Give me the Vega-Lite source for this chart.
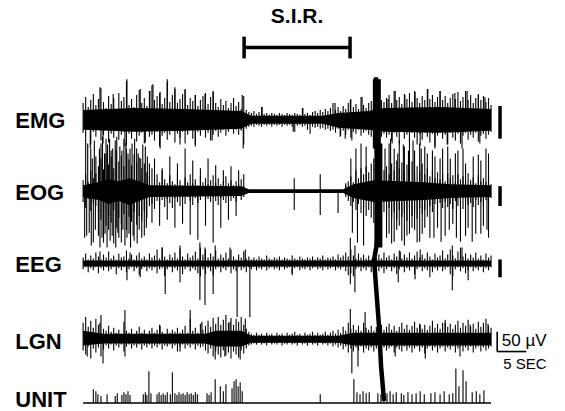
{
"$schema":"https://vega.github.io/schema/vega-lite/v6.json",
"width":565,"height":411,"autosize":{"type":"fit","contains":"padding"},"padding":0,
"background":"white",
"config":{"view":{"stroke":null}},
"datasets":{
"core":[
{"s":"M","t":0,"a":111,"b":131},{"s":"M","t":10,"a":109,"b":133},{"s":"M","t":20,"a":110,"b":132},{"s":"M","t":31,"a":112,"b":130},{"s":"M","t":33,"a":117,"b":125},{"s":"M","t":47,"a":117,"b":125},{"s":"M","t":50,"a":114,"b":129},{"s":"M","t":56,"a":112,"b":131},{"s":"M","t":59,"a":109,"b":133},{"s":"M","t":70,"a":108,"b":134},{"s":"M","t":80,"a":110,"b":132},
{"s":"O","t":0,"a":187,"b":199},{"s":"O","t":3,"a":184,"b":202},{"s":"O","t":5,"a":181,"b":206},{"s":"O","t":7,"a":183,"b":203},{"s":"O","t":9,"a":180,"b":207},{"s":"O","t":11,"a":183,"b":203},{"s":"O","t":13,"a":187,"b":199},{"s":"O","t":31,"a":188,"b":198},{"s":"O","t":32.5,"a":191,"b":195},{"s":"O","t":51,"a":191,"b":195},{"s":"O","t":53,"a":186,"b":200},{"s":"O","t":57,"a":182,"b":204},{"s":"O","t":62,"a":183,"b":203},{"s":"O","t":67,"a":184,"b":202},{"s":"O","t":72,"a":186,"b":200},{"s":"O","t":80,"a":187,"b":199},
{"s":"E","t":0,"a":263,"b":269},{"s":"E","t":40,"a":263,"b":269},{"s":"E","t":80,"a":263,"b":269},
{"s":"L","t":0,"a":334,"b":349},{"s":"L","t":4,"a":337,"b":347},{"s":"L","t":24,"a":337,"b":347},{"s":"L","t":26,"a":334,"b":350},{"s":"L","t":31,"a":334,"b":350},{"s":"L","t":33,"a":339,"b":346},{"s":"L","t":50,"a":339,"b":346},{"s":"L","t":53,"a":336,"b":349},{"s":"L","t":80,"a":336,"b":349}
],
"env":[
{"s":"M","t":0,"a":104,"b":134},{"s":"M","t":0.5,"a":98,"b":140},{"s":"M","t":1,"a":108,"b":131},{"s":"M","t":1.5,"a":101,"b":146},{"s":"M","t":2,"a":95,"b":133},{"s":"M","t":2.5,"a":106,"b":138},{"s":"M","t":3,"a":100,"b":130},{"s":"M","t":3.5,"a":89,"b":142},{"s":"M","t":4,"a":103,"b":136},{"s":"M","t":4.5,"a":109,"b":131},{"s":"M","t":5,"a":97,"b":144},{"s":"M","t":5.5,"a":105,"b":135},{"s":"M","t":6,"a":99,"b":139},{"s":"M","t":6.5,"a":110,"b":132},{"s":"M","t":7,"a":94,"b":141},{"s":"M","t":7.5,"a":102,"b":136},{"s":"M","t":8,"a":98,"b":133},{"s":"M","t":8.5,"a":82,"b":147},{"s":"M","t":9,"a":106,"b":135},{"s":"M","t":9.5,"a":100,"b":140},{"s":"M","t":10,"a":108,"b":132},{"s":"M","t":10.5,"a":96,"b":143},{"s":"M","t":11,"a":91,"b":137},{"s":"M","t":11.5,"a":104,"b":134},{"s":"M","t":12,"a":99,"b":145},{"s":"M","t":12.5,"a":107,"b":131},{"s":"M","t":13,"a":92,"b":138},{"s":"M","t":13.5,"a":86,"b":136},{"s":"M","t":14,"a":101,"b":142},{"s":"M","t":14.5,"a":97,"b":133},{"s":"M","t":15,"a":94,"b":148},{"s":"M","t":15.5,"a":105,"b":137},{"s":"M","t":16,"a":99,"b":134},{"s":"M","t":16.5,"a":83,"b":141},{"s":"M","t":17,"a":103,"b":136},{"s":"M","t":17.5,"a":96,"b":132},{"s":"M","t":18,"a":90,"b":144},{"s":"M","t":18.5,"a":104,"b":135},{"s":"M","t":19,"a":100,"b":139},{"s":"M","t":19.5,"a":95,"b":133},{"s":"M","t":20,"a":91,"b":145},{"s":"M","t":20.5,"a":106,"b":136},{"s":"M","t":21,"a":99,"b":131},{"s":"M","t":21.5,"a":102,"b":140},{"s":"M","t":22,"a":96,"b":146},{"s":"M","t":22.5,"a":107,"b":133},{"s":"M","t":23,"a":101,"b":137},{"s":"M","t":23.5,"a":97,"b":131},{"s":"M","t":24,"a":94,"b":139},{"s":"M","t":24.5,"a":105,"b":134},{"s":"M","t":25,"a":98,"b":142},{"s":"M","t":25.5,"a":93,"b":136},{"s":"M","t":26,"a":104,"b":132},{"s":"M","t":26.5,"a":108,"b":138},{"s":"M","t":27,"a":100,"b":134},{"s":"M","t":27.5,"a":106,"b":131},{"s":"M","t":28,"a":102,"b":137},{"s":"M","t":28.5,"a":109,"b":133},{"s":"M","t":29,"a":104,"b":130},{"s":"M","t":29.5,"a":99,"b":135},{"s":"M","t":30,"a":107,"b":131},{"s":"M","t":30.5,"a":103,"b":136},{"s":"M","t":31,"a":110,"b":132},{"s":"M","t":31.5,"a":97,"b":146},{"s":"M","t":32,"a":111,"b":130},{"s":"M","t":32.5,"a":113,"b":128},{"s":"M","t":33,"a":114,"b":127},{"s":"M","t":33.5,"a":112,"b":128},{"s":"M","t":34,"a":115,"b":126},{"s":"M","t":34.5,"a":113,"b":127},{"s":"M","t":35,"a":108,"b":128},{"s":"M","t":35.5,"a":115,"b":126},{"s":"M","t":36,"a":114,"b":127},{"s":"M","t":36.5,"a":116,"b":126},{"s":"M","t":37,"a":114,"b":128},{"s":"M","t":37.5,"a":115,"b":126},{"s":"M","t":38,"a":116,"b":127},{"s":"M","t":38.5,"a":114,"b":126},{"s":"M","t":39,"a":115,"b":128},{"s":"M","t":39.5,"a":116,"b":126},{"s":"M","t":40,"a":114,"b":127},{"s":"M","t":40.5,"a":115,"b":126},{"s":"M","t":41,"a":116,"b":128},{"s":"M","t":41.5,"a":114,"b":133},{"s":"M","t":42,"a":115,"b":127},{"s":"M","t":42.5,"a":116,"b":126},{"s":"M","t":43,"a":109,"b":128},{"s":"M","t":43.5,"a":115,"b":127},{"s":"M","t":44,"a":114,"b":131},{"s":"M","t":44.5,"a":116,"b":126},{"s":"M","t":45,"a":113,"b":128},{"s":"M","t":45.5,"a":112,"b":129},{"s":"M","t":46,"a":114,"b":128},{"s":"M","t":46.5,"a":111,"b":130},{"s":"M","t":47,"a":113,"b":129},{"s":"M","t":47.5,"a":110,"b":131},{"s":"M","t":48,"a":112,"b":130},{"s":"M","t":48.5,"a":109,"b":132},{"s":"M","t":49,"a":104,"b":131},{"s":"M","t":49.5,"a":111,"b":134},{"s":"M","t":50,"a":108,"b":130},{"s":"M","t":50.5,"a":112,"b":137},{"s":"M","t":51,"a":107,"b":132},{"s":"M","t":51.5,"a":110,"b":136},{"s":"M","t":52,"a":104,"b":131},{"s":"M","t":52.5,"a":100,"b":139},{"s":"M","t":53,"a":108,"b":133},{"s":"M","t":53.5,"a":105,"b":135},{"s":"M","t":54,"a":110,"b":131},{"s":"M","t":54.5,"a":98,"b":137},{"s":"M","t":55,"a":106,"b":134},{"s":"M","t":55.5,"a":109,"b":132},{"s":"M","t":56,"a":104,"b":136},{"s":"M","t":56.5,"a":102,"b":138},{"s":"M","t":57,"a":100,"b":140},{"s":"M","t":57.5,"a":98,"b":142},{"s":"M","t":58,"a":100,"b":140},{"s":"M","t":58.5,"a":101,"b":138},{"s":"M","t":59,"a":103,"b":135},{"s":"M","t":59.5,"a":99,"b":139},{"s":"M","t":60,"a":96,"b":136},{"s":"M","t":60.5,"a":104,"b":142},{"s":"M","t":61,"a":92,"b":134},{"s":"M","t":61.5,"a":101,"b":138},{"s":"M","t":62,"a":98,"b":145},{"s":"M","t":62.5,"a":105,"b":133},{"s":"M","t":63,"a":95,"b":140},{"s":"M","t":63.5,"a":100,"b":136},{"s":"M","t":64,"a":94,"b":143},{"s":"M","t":64.5,"a":103,"b":134},{"s":"M","t":65,"a":92,"b":139},{"s":"M","t":65.5,"a":99,"b":146},{"s":"M","t":66,"a":104,"b":135},{"s":"M","t":66.5,"a":97,"b":141},{"s":"M","t":67,"a":101,"b":134},{"s":"M","t":67.5,"a":90,"b":138},{"s":"M","t":68,"a":100,"b":144},{"s":"M","t":68.5,"a":96,"b":135},{"s":"M","t":69,"a":103,"b":148},{"s":"M","t":69.5,"a":98,"b":137},{"s":"M","t":70,"a":92,"b":133},{"s":"M","t":70.5,"a":101,"b":140},{"s":"M","t":71,"a":97,"b":136},{"s":"M","t":71.5,"a":104,"b":146},{"s":"M","t":72,"a":99,"b":134},{"s":"M","t":72.5,"a":95,"b":139},{"s":"M","t":73,"a":100,"b":142},{"s":"M","t":73.5,"a":93,"b":135},{"s":"M","t":74,"a":102,"b":145},{"s":"M","t":74.5,"a":98,"b":137},{"s":"M","t":75,"a":92,"b":134},{"s":"M","t":75.5,"a":101,"b":141},{"s":"M","t":76,"a":96,"b":136},{"s":"M","t":76.5,"a":104,"b":139},{"s":"M","t":77,"a":99,"b":134},{"s":"M","t":77.5,"a":95,"b":143},{"s":"M","t":78,"a":101,"b":137},{"s":"M","t":78.5,"a":97,"b":135},{"s":"M","t":79,"a":103,"b":140},{"s":"M","t":79.5,"a":99,"b":136},{"s":"M","t":80,"a":106,"b":133},
{"s":"O","t":0,"a":182,"b":204},{"s":"O","t":0.5,"a":176,"b":210},{"s":"O","t":1,"a":184,"b":201},{"s":"O","t":1.5,"a":172,"b":213},{"s":"O","t":2,"a":180,"b":205},{"s":"O","t":2.5,"a":175,"b":208},{"s":"O","t":3,"a":168,"b":214},{"s":"O","t":3.5,"a":160,"b":222},{"s":"O","t":4,"a":171,"b":215},{"s":"O","t":4.5,"a":155,"b":228},{"s":"O","t":5,"a":166,"b":218},{"s":"O","t":5.5,"a":158,"b":225},{"s":"O","t":6,"a":170,"b":212},{"s":"O","t":6.5,"a":152,"b":230},{"s":"O","t":7,"a":163,"b":220},{"s":"O","t":7.5,"a":157,"b":226},{"s":"O","t":8,"a":168,"b":216},{"s":"O","t":8.5,"a":150,"b":232},{"s":"O","t":9,"a":161,"b":219},{"s":"O","t":9.5,"a":167,"b":224},{"s":"O","t":10,"a":156,"b":214},{"s":"O","t":10.5,"a":164,"b":227},{"s":"O","t":11,"a":159,"b":218},{"s":"O","t":11.5,"a":170,"b":223},{"s":"O","t":12,"a":165,"b":213},{"s":"O","t":12.5,"a":174,"b":220},{"s":"O","t":13,"a":178,"b":208},{"s":"O","t":13.5,"a":170,"b":206},{"s":"O","t":14,"a":182,"b":211},{"s":"O","t":14.5,"a":176,"b":203},{"s":"O","t":15,"a":184,"b":207},{"s":"O","t":15.5,"a":172,"b":202},{"s":"O","t":16,"a":181,"b":209},{"s":"O","t":16.5,"a":185,"b":201},{"s":"O","t":17,"a":177,"b":205},{"s":"O","t":17.5,"a":183,"b":210},{"s":"O","t":18,"a":186,"b":200},{"s":"O","t":18.5,"a":175,"b":204},{"s":"O","t":19,"a":182,"b":208},{"s":"O","t":19.5,"a":187,"b":201},{"s":"O","t":20,"a":179,"b":206},{"s":"O","t":20.5,"a":184,"b":199},{"s":"O","t":21,"a":176,"b":203},{"s":"O","t":21.5,"a":185,"b":207},{"s":"O","t":22,"a":181,"b":200},{"s":"O","t":22.5,"a":187,"b":205},{"s":"O","t":23,"a":178,"b":202},{"s":"O","t":23.5,"a":184,"b":198},{"s":"O","t":24,"a":180,"b":206},{"s":"O","t":24.5,"a":186,"b":201},{"s":"O","t":25,"a":182,"b":204},{"s":"O","t":25.5,"a":177,"b":199},{"s":"O","t":26,"a":185,"b":203},{"s":"O","t":26.5,"a":180,"b":207},{"s":"O","t":27,"a":186,"b":200},{"s":"O","t":27.5,"a":183,"b":202},{"s":"O","t":28,"a":178,"b":205},{"s":"O","t":28.5,"a":185,"b":199},{"s":"O","t":29,"a":182,"b":203},{"s":"O","t":29.5,"a":187,"b":200},{"s":"O","t":30,"a":183,"b":204},{"s":"O","t":30.5,"a":186,"b":198},{"s":"O","t":31,"a":181,"b":202},{"s":"O","t":31.5,"a":188,"b":199},{"s":"O","t":51.5,"a":187,"b":199},{"s":"O","t":52,"a":183,"b":203},{"s":"O","t":52.5,"a":178,"b":208},{"s":"O","t":53,"a":184,"b":204},{"s":"O","t":53.5,"a":172,"b":212},{"s":"O","t":54,"a":180,"b":206},{"s":"O","t":54.5,"a":170,"b":215},{"s":"O","t":55,"a":176,"b":210},{"s":"O","t":55.5,"a":168,"b":218},{"s":"O","t":56,"a":174,"b":212},{"s":"O","t":56.5,"a":165,"b":220},{"s":"O","t":57,"a":160,"b":225},{"s":"O","t":57.5,"a":158,"b":228},{"s":"O","t":58,"a":162,"b":224},{"s":"O","t":58.5,"a":166,"b":220},{"s":"O","t":59,"a":172,"b":214},{"s":"O","t":59.5,"a":168,"b":218},{"s":"O","t":60,"a":176,"b":210},{"s":"O","t":60.5,"a":165,"b":220},{"s":"O","t":61,"a":172,"b":214},{"s":"O","t":61.5,"a":162,"b":222},{"s":"O","t":62,"a":170,"b":212},{"s":"O","t":62.5,"a":164,"b":219},{"s":"O","t":63,"a":174,"b":215},{"s":"O","t":63.5,"a":166,"b":223},{"s":"O","t":64,"a":171,"b":211},{"s":"O","t":64.5,"a":163,"b":218},{"s":"O","t":65,"a":175,"b":213},{"s":"O","t":65.5,"a":168,"b":221},{"s":"O","t":66,"a":173,"b":210},{"s":"O","t":66.5,"a":165,"b":216},{"s":"O","t":67,"a":176,"b":212},{"s":"O","t":67.5,"a":170,"b":219},{"s":"O","t":68,"a":178,"b":208},{"s":"O","t":68.5,"a":172,"b":214},{"s":"O","t":69,"a":180,"b":206},{"s":"O","t":69.5,"a":174,"b":212},{"s":"O","t":70,"a":181,"b":205},{"s":"O","t":70.5,"a":176,"b":210},{"s":"O","t":71,"a":183,"b":204},{"s":"O","t":71.5,"a":175,"b":209},{"s":"O","t":72,"a":180,"b":206},{"s":"O","t":72.5,"a":177,"b":211},{"s":"O","t":73,"a":184,"b":203},{"s":"O","t":73.5,"a":176,"b":208},{"s":"O","t":74,"a":181,"b":205},{"s":"O","t":74.5,"a":178,"b":211},{"s":"O","t":75,"a":183,"b":203},{"s":"O","t":75.5,"a":175,"b":207},{"s":"O","t":76,"a":182,"b":205},{"s":"O","t":76.5,"a":179,"b":209},{"s":"O","t":77,"a":185,"b":202},{"s":"O","t":77.5,"a":177,"b":207},{"s":"O","t":78,"a":183,"b":204},{"s":"O","t":78.5,"a":180,"b":208},{"s":"O","t":79,"a":184,"b":202},{"s":"O","t":79.5,"a":178,"b":206},{"s":"O","t":80,"a":186,"b":200},
{"s":"E","t":0,"a":260,"b":272},{"s":"E","t":0.5,"a":256,"b":270},{"s":"E","t":1,"a":262,"b":275},{"s":"E","t":1.5,"a":258,"b":271},{"s":"E","t":2,"a":261,"b":273},{"s":"E","t":2.5,"a":255,"b":270},{"s":"E","t":3,"a":259,"b":276},{"s":"E","t":3.5,"a":262,"b":271},{"s":"E","t":4,"a":257,"b":273},{"s":"E","t":4.5,"a":260,"b":270},{"s":"E","t":5,"a":254,"b":274},{"s":"E","t":5.5,"a":261,"b":272},{"s":"E","t":6,"a":258,"b":270},{"s":"E","t":6.5,"a":262,"b":277},{"s":"E","t":7,"a":256,"b":271},{"s":"E","t":7.5,"a":260,"b":273},{"s":"E","t":8,"a":259,"b":270},{"s":"E","t":8.5,"a":253,"b":275},{"s":"E","t":9,"a":261,"b":272},{"s":"E","t":9.5,"a":257,"b":270},{"s":"E","t":10,"a":262,"b":274},{"s":"E","t":10.5,"a":258,"b":271},{"s":"E","t":11,"a":255,"b":278},{"s":"E","t":11.5,"a":261,"b":272},{"s":"E","t":12,"a":259,"b":270},{"s":"E","t":12.5,"a":262,"b":274},{"s":"E","t":13,"a":256,"b":271},{"s":"E","t":13.5,"a":260,"b":273},{"s":"E","t":14,"a":258,"b":270},{"s":"E","t":14.5,"a":252,"b":276},{"s":"E","t":15,"a":261,"b":272},{"s":"E","t":15.5,"a":250,"b":271},{"s":"E","t":16,"a":259,"b":279},{"s":"E","t":16.5,"a":262,"b":272},{"s":"E","t":17,"a":257,"b":270},{"s":"E","t":17.5,"a":260,"b":275},{"s":"E","t":18,"a":255,"b":271},{"s":"E","t":18.5,"a":261,"b":273},{"s":"E","t":19,"a":251,"b":270},{"s":"E","t":19.5,"a":259,"b":277},{"s":"E","t":20,"a":262,"b":272},{"s":"E","t":20.5,"a":256,"b":270},{"s":"E","t":21,"a":260,"b":274},{"s":"E","t":21.5,"a":258,"b":271},{"s":"E","t":22,"a":254,"b":273},{"s":"E","t":22.5,"a":261,"b":276},{"s":"E","t":23,"a":250,"b":279},{"s":"E","t":23.5,"a":257,"b":272},{"s":"E","t":24,"a":252,"b":277},{"s":"E","t":24.5,"a":260,"b":271},{"s":"E","t":25,"a":256,"b":274},{"s":"E","t":25.5,"a":259,"b":278},{"s":"E","t":26,"a":253,"b":272},{"s":"E","t":26.5,"a":261,"b":270},{"s":"E","t":27,"a":257,"b":275},{"s":"E","t":27.5,"a":260,"b":271},{"s":"E","t":28,"a":255,"b":273},{"s":"E","t":28.5,"a":261,"b":270},{"s":"E","t":29,"a":252,"b":276},{"s":"E","t":29.5,"a":259,"b":272},{"s":"E","t":30,"a":262,"b":274},{"s":"E","t":30.5,"a":257,"b":270},{"s":"E","t":31,"a":260,"b":273},{"s":"E","t":31.5,"a":254,"b":271},{"s":"E","t":32,"a":261,"b":275},{"s":"E","t":32.5,"a":259,"b":270},{"s":"E","t":33,"a":262,"b":272},{"s":"E","t":33.5,"a":260,"b":270},{"s":"E","t":34,"a":262,"b":273},{"s":"E","t":34.5,"a":259,"b":271},{"s":"E","t":35,"a":261,"b":272},{"s":"E","t":35.5,"a":262,"b":270},{"s":"E","t":36,"a":258,"b":273},{"s":"E","t":36.5,"a":261,"b":271},{"s":"E","t":37,"a":262,"b":270},{"s":"E","t":37.5,"a":260,"b":272},{"s":"E","t":38,"a":261,"b":271},{"s":"E","t":38.5,"a":259,"b":273},{"s":"E","t":39,"a":262,"b":270},{"s":"E","t":39.5,"a":260,"b":272},{"s":"E","t":40,"a":261,"b":271},{"s":"E","t":40.5,"a":262,"b":270},{"s":"E","t":41,"a":258,"b":276},{"s":"E","t":41.5,"a":261,"b":271},{"s":"E","t":42,"a":262,"b":270},{"s":"E","t":42.5,"a":259,"b":273},{"s":"E","t":43,"a":261,"b":271},{"s":"E","t":43.5,"a":262,"b":272},{"s":"E","t":44,"a":260,"b":270},{"s":"E","t":44.5,"a":261,"b":273},{"s":"E","t":45,"a":259,"b":271},{"s":"E","t":45.5,"a":262,"b":270},{"s":"E","t":46,"a":260,"b":272},{"s":"E","t":46.5,"a":261,"b":271},{"s":"E","t":47,"a":258,"b":273},{"s":"E","t":47.5,"a":262,"b":270},{"s":"E","t":48,"a":260,"b":272},{"s":"E","t":48.5,"a":261,"b":271},{"s":"E","t":49,"a":259,"b":270},{"s":"E","t":49.5,"a":262,"b":273},{"s":"E","t":50,"a":257,"b":271},{"s":"E","t":50.5,"a":260,"b":272},{"s":"E","t":51,"a":258,"b":270},{"s":"E","t":51.5,"a":255,"b":274},{"s":"E","t":52,"a":259,"b":278},{"s":"E","t":52.5,"a":252,"b":276},{"s":"E","t":53,"a":258,"b":279},{"s":"E","t":53.5,"a":261,"b":272},{"s":"E","t":54,"a":256,"b":270},{"s":"E","t":54.5,"a":260,"b":274},{"s":"E","t":55,"a":257,"b":271},{"s":"E","t":55.5,"a":261,"b":273},{"s":"E","t":56,"a":258,"b":270},{"s":"E","t":56.5,"a":262,"b":275},{"s":"E","t":57,"a":256,"b":272},{"s":"E","t":57.5,"a":260,"b":270},{"s":"E","t":58,"a":257,"b":274},{"s":"E","t":58.5,"a":261,"b":271},{"s":"E","t":59,"a":255,"b":276},{"s":"E","t":59.5,"a":260,"b":272},{"s":"E","t":60,"a":258,"b":270},{"s":"E","t":60.5,"a":262,"b":274},{"s":"E","t":61,"a":256,"b":271},{"s":"E","t":61.5,"a":259,"b":277},{"s":"E","t":62,"a":253,"b":272},{"s":"E","t":62.5,"a":261,"b":270},{"s":"E","t":63,"a":257,"b":275},{"s":"E","t":63.5,"a":260,"b":271},{"s":"E","t":64,"a":255,"b":273},{"s":"E","t":64.5,"a":261,"b":270},{"s":"E","t":65,"a":258,"b":277},{"s":"E","t":65.5,"a":254,"b":272},{"s":"E","t":66,"a":260,"b":270},{"s":"E","t":66.5,"a":257,"b":274},{"s":"E","t":67,"a":261,"b":271},{"s":"E","t":67.5,"a":255,"b":273},{"s":"E","t":68,"a":259,"b":270},{"s":"E","t":68.5,"a":262,"b":275},{"s":"E","t":69,"a":256,"b":271},{"s":"E","t":69.5,"a":260,"b":273},{"s":"E","t":70,"a":258,"b":270},{"s":"E","t":70.5,"a":253,"b":274},{"s":"E","t":71,"a":261,"b":272},{"s":"E","t":71.5,"a":257,"b":270},{"s":"E","t":72,"a":252,"b":277},{"s":"E","t":72.5,"a":258,"b":279},{"s":"E","t":73,"a":261,"b":272},{"s":"E","t":73.5,"a":254,"b":270},{"s":"E","t":74,"a":250,"b":274},{"s":"E","t":74.5,"a":259,"b":271},{"s":"E","t":75,"a":256,"b":276},{"s":"E","t":75.5,"a":261,"b":273},{"s":"E","t":76,"a":257,"b":270},{"s":"E","t":76.5,"a":260,"b":274},{"s":"E","t":77,"a":255,"b":271},{"s":"E","t":77.5,"a":261,"b":273},{"s":"E","t":78,"a":258,"b":270},{"s":"E","t":78.5,"a":262,"b":275},{"s":"E","t":79,"a":256,"b":271},{"s":"E","t":79.5,"a":260,"b":273},{"s":"E","t":80,"a":258,"b":270},
{"s":"L","t":0,"a":326,"b":354},{"s":"L","t":0.5,"a":320,"b":358},{"s":"L","t":1,"a":330,"b":350},{"s":"L","t":1.5,"a":324,"b":362},{"s":"L","t":2,"a":331,"b":352},{"s":"L","t":2.5,"a":322,"b":356},{"s":"L","t":3,"a":328,"b":351},{"s":"L","t":3.5,"a":318,"b":360},{"s":"L","t":4,"a":332,"b":353},{"s":"L","t":4.5,"a":334,"b":349},{"s":"L","t":5,"a":329,"b":352},{"s":"L","t":5.5,"a":335,"b":348},{"s":"L","t":6,"a":331,"b":354},{"s":"L","t":6.5,"a":336,"b":349},{"s":"L","t":7,"a":333,"b":351},{"s":"L","t":7.5,"a":337,"b":348},{"s":"L","t":8,"a":325,"b":355},{"s":"L","t":8.5,"a":334,"b":350},{"s":"L","t":9,"a":336,"b":348},{"s":"L","t":9.5,"a":332,"b":352},{"s":"L","t":10,"a":337,"b":349},{"s":"L","t":10.5,"a":334,"b":351},{"s":"L","t":11,"a":330,"b":348},{"s":"L","t":11.5,"a":336,"b":353},{"s":"L","t":12,"a":333,"b":349},{"s":"L","t":12.5,"a":337,"b":351},{"s":"L","t":13,"a":334,"b":348},{"s":"L","t":13.5,"a":331,"b":352},{"s":"L","t":14,"a":336,"b":349},{"s":"L","t":14.5,"a":333,"b":351},{"s":"L","t":15,"a":328,"b":348},{"s":"L","t":15.5,"a":335,"b":353},{"s":"L","t":16,"a":337,"b":349},{"s":"L","t":16.5,"a":332,"b":350},{"s":"L","t":17,"a":336,"b":348},{"s":"L","t":17.5,"a":333,"b":352},{"s":"L","t":18,"a":335,"b":349},{"s":"L","t":18.5,"a":331,"b":355},{"s":"L","t":19,"a":336,"b":350},{"s":"L","t":19.5,"a":333,"b":348},{"s":"L","t":20,"a":329,"b":352},{"s":"L","t":20.5,"a":336,"b":349},{"s":"L","t":21,"a":322,"b":351},{"s":"L","t":21.5,"a":334,"b":348},{"s":"L","t":22,"a":331,"b":353},{"s":"L","t":22.5,"a":336,"b":349},{"s":"L","t":23,"a":327,"b":351},{"s":"L","t":23.5,"a":333,"b":350},{"s":"L","t":24,"a":329,"b":354},{"s":"L","t":24.5,"a":324,"b":357},{"s":"L","t":25,"a":330,"b":352},{"s":"L","t":25.5,"a":321,"b":360},{"s":"L","t":26,"a":327,"b":355},{"s":"L","t":26.5,"a":320,"b":358},{"s":"L","t":27,"a":328,"b":361},{"s":"L","t":27.5,"a":323,"b":354},{"s":"L","t":28,"a":318,"b":359},{"s":"L","t":28.5,"a":326,"b":356},{"s":"L","t":29,"a":321,"b":362},{"s":"L","t":29.5,"a":328,"b":355},{"s":"L","t":30,"a":322,"b":358},{"s":"L","t":30.5,"a":325,"b":361},{"s":"L","t":31,"a":320,"b":354},{"s":"L","t":31.5,"a":328,"b":357},{"s":"L","t":32,"a":332,"b":352},{"s":"L","t":32.5,"a":335,"b":349},{"s":"L","t":33,"a":337,"b":348},{"s":"L","t":33.5,"a":338,"b":347},{"s":"L","t":34,"a":336,"b":348},{"s":"L","t":34.5,"a":338,"b":346},{"s":"L","t":35,"a":337,"b":348},{"s":"L","t":35.5,"a":339,"b":347},{"s":"L","t":36,"a":336,"b":349},{"s":"L","t":36.5,"a":338,"b":346},{"s":"L","t":37,"a":337,"b":348},{"s":"L","t":37.5,"a":339,"b":347},{"s":"L","t":38,"a":336,"b":348},{"s":"L","t":38.5,"a":338,"b":346},{"s":"L","t":39,"a":337,"b":349},{"s":"L","t":39.5,"a":339,"b":347},{"s":"L","t":40,"a":336,"b":348},{"s":"L","t":40.5,"a":338,"b":346},{"s":"L","t":41,"a":337,"b":348},{"s":"L","t":41.5,"a":335,"b":347},{"s":"L","t":42,"a":338,"b":349},{"s":"L","t":42.5,"a":337,"b":346},{"s":"L","t":43,"a":339,"b":348},{"s":"L","t":43.5,"a":336,"b":347},{"s":"L","t":44,"a":338,"b":349},{"s":"L","t":44.5,"a":337,"b":346},{"s":"L","t":45,"a":335,"b":348},{"s":"L","t":45.5,"a":338,"b":347},{"s":"L","t":46,"a":336,"b":349},{"s":"L","t":46.5,"a":338,"b":346},{"s":"L","t":47,"a":337,"b":348},{"s":"L","t":47.5,"a":335,"b":347},{"s":"L","t":48,"a":338,"b":349},{"s":"L","t":48.5,"a":336,"b":347},{"s":"L","t":49,"a":334,"b":350},{"s":"L","t":49.5,"a":337,"b":348},{"s":"L","t":50,"a":333,"b":351},{"s":"L","t":50.5,"a":336,"b":349},{"s":"L","t":51,"a":330,"b":353},{"s":"L","t":51.5,"a":334,"b":350},{"s":"L","t":52,"a":326,"b":356},{"s":"L","t":52.5,"a":332,"b":352},{"s":"L","t":53,"a":328,"b":355},{"s":"L","t":53.5,"a":333,"b":351},{"s":"L","t":54,"a":329,"b":354},{"s":"L","t":54.5,"a":334,"b":350},{"s":"L","t":55,"a":326,"b":356},{"s":"L","t":55.5,"a":331,"b":352},{"s":"L","t":56,"a":333,"b":354},{"s":"L","t":56.5,"a":329,"b":351},{"s":"L","t":57,"a":334,"b":355},{"s":"L","t":57.5,"a":330,"b":352},{"s":"L","t":58,"a":332,"b":350},{"s":"L","t":58.5,"a":328,"b":355},{"s":"L","t":59,"a":333,"b":351},{"s":"L","t":59.5,"a":330,"b":354},{"s":"L","t":60,"a":327,"b":352},{"s":"L","t":60.5,"a":333,"b":350},{"s":"L","t":61,"a":329,"b":356},{"s":"L","t":61.5,"a":334,"b":351},{"s":"L","t":62,"a":330,"b":353},{"s":"L","t":62.5,"a":326,"b":355},{"s":"L","t":63,"a":332,"b":350},{"s":"L","t":63.5,"a":328,"b":354},{"s":"L","t":64,"a":333,"b":351},{"s":"L","t":64.5,"a":329,"b":356},{"s":"L","t":65,"a":325,"b":352},{"s":"L","t":65.5,"a":331,"b":350},{"s":"L","t":66,"a":327,"b":355},{"s":"L","t":66.5,"a":332,"b":351},{"s":"L","t":67,"a":328,"b":357},{"s":"L","t":67.5,"a":333,"b":352},{"s":"L","t":68,"a":329,"b":350},{"s":"L","t":68.5,"a":324,"b":354},{"s":"L","t":69,"a":331,"b":351},{"s":"L","t":69.5,"a":327,"b":356},{"s":"L","t":70,"a":332,"b":352},{"s":"L","t":70.5,"a":326,"b":350},{"s":"L","t":71,"a":323,"b":355},{"s":"L","t":71.5,"a":330,"b":351},{"s":"L","t":72,"a":327,"b":353},{"s":"L","t":72.5,"a":332,"b":350},{"s":"L","t":73,"a":328,"b":356},{"s":"L","t":73.5,"a":324,"b":352},{"s":"L","t":74,"a":331,"b":350},{"s":"L","t":74.5,"a":326,"b":355},{"s":"L","t":75,"a":329,"b":351},{"s":"L","t":75.5,"a":323,"b":354},{"s":"L","t":76,"a":330,"b":350},{"s":"L","t":76.5,"a":327,"b":356},{"s":"L","t":77,"a":332,"b":352},{"s":"L","t":77.5,"a":325,"b":350},{"s":"L","t":78,"a":330,"b":355},{"s":"L","t":78.5,"a":326,"b":351},{"s":"L","t":79,"a":322,"b":354},{"s":"L","t":79.5,"a":329,"b":352},{"s":"L","t":80,"a":331,"b":350}
],
"spk":[
{"t":8.6,"a":121,"b":80},{"t":16.5,"a":121,"b":80},{"t":3.3,"a":121,"b":88},{"t":5.9,"a":121,"b":95},{"t":11.2,"a":121,"b":90},{"t":13.1,"a":121,"b":92},{"t":13.7,"a":121,"b":85},{"t":15.1,"a":121,"b":93},{"t":18,"a":121,"b":88},{"t":20,"a":121,"b":90},{"t":22,"a":121,"b":96},{"t":23.9,"a":121,"b":95},{"t":25.5,"a":121,"b":92},{"t":31.2,"a":121,"b":96},{"t":35.1,"a":121,"b":108},{"t":43.1,"a":121,"b":109},{"t":49.4,"a":121,"b":104},{"t":52.4,"a":121,"b":101},{"t":54.7,"a":121,"b":98},{"t":59.8,"a":121,"b":100},{"t":61.2,"a":121,"b":92},{"t":63.1,"a":121,"b":96},{"t":65.1,"a":121,"b":93},{"t":67.6,"a":121,"b":90},{"t":70,"a":121,"b":92},{"t":72.9,"a":121,"b":94},{"t":75.3,"a":121,"b":92},{"t":77.5,"a":121,"b":96},{"t":78.8,"a":121,"b":98},
{"t":1.4,"a":121,"b":150},{"t":3.9,"a":121,"b":145},{"t":8.2,"a":121,"b":148},{"t":12.2,"a":121,"b":144},{"t":15.1,"a":121,"b":150},{"t":19,"a":121,"b":146},{"t":22,"a":121,"b":148},{"t":25.3,"a":121,"b":142},{"t":31.4,"a":121,"b":150},{"t":41.2,"a":121,"b":133},{"t":44.5,"a":121,"b":135},{"t":50.4,"a":121,"b":138},{"t":51.4,"a":121,"b":140},{"t":52.7,"a":121,"b":142},{"t":60.6,"a":121,"b":145},{"t":66.1,"a":121,"b":147},{"t":69,"a":121,"b":150},{"t":71.4,"a":121,"b":146},{"t":74.3,"a":121,"b":150},{"t":77.8,"a":121,"b":145},
{"t":0.5,"a":193,"b":140},{"t":1.5,"a":193,"b":150},{"t":2.5,"a":193,"b":158},{"t":3.5,"a":193,"b":145},{"t":4.5,"a":193,"b":140},{"t":5.5,"a":193,"b":152},{"t":6.3,"a":193,"b":142},{"t":7.2,"a":193,"b":148},{"t":8,"a":193,"b":140},{"t":8.8,"a":193,"b":155},{"t":9.6,"a":193,"b":145},{"t":10.5,"a":193,"b":150},{"t":11.3,"a":193,"b":160},{"t":12.2,"a":193,"b":148},{"t":13,"a":193,"b":165},{"t":14,"a":193,"b":160},{"t":15.5,"a":193,"b":170},{"t":17,"a":193,"b":158},{"t":18.5,"a":193,"b":165},{"t":20,"a":193,"b":150},{"t":21.5,"a":193,"b":162},{"t":23,"a":193,"b":170},{"t":24.5,"a":193,"b":160},{"t":26,"a":193,"b":167},{"t":27.5,"a":193,"b":172},{"t":29,"a":193,"b":168},{"t":30.5,"a":193,"b":172},{"t":31.5,"a":193,"b":176},{"t":41.4,"a":193,"b":180},{"t":46.5,"a":193,"b":176},{"t":51.5,"a":193,"b":185},{"t":52.5,"a":193,"b":160},{"t":53.5,"a":193,"b":150},{"t":54.5,"a":193,"b":145},{"t":55.5,"a":193,"b":148},{"t":60,"a":193,"b":145},{"t":61,"a":193,"b":150},{"t":62,"a":193,"b":142},{"t":63,"a":193,"b":148},{"t":64,"a":193,"b":140},{"t":65,"a":193,"b":152},{"t":66,"a":193,"b":145},{"t":67.5,"a":193,"b":155},{"t":69,"a":193,"b":158},{"t":70.5,"a":193,"b":150},{"t":72,"a":193,"b":160},{"t":73.5,"a":193,"b":152},{"t":75,"a":193,"b":165},{"t":76.5,"a":193,"b":158},{"t":78,"a":193,"b":162},{"t":79.5,"a":193,"b":155},
{"t":0.9,"a":193,"b":145},{"t":1.8,"a":193,"b":160},{"t":2.2,"a":193,"b":142},{"t":3.2,"a":193,"b":150},{"t":3.8,"a":193,"b":138},{"t":4.2,"a":193,"b":155},{"t":4.8,"a":193,"b":146},{"t":5.2,"a":193,"b":140},{"t":5.8,"a":193,"b":150},{"t":6.6,"a":193,"b":138},{"t":7.6,"a":193,"b":152},{"t":8.4,"a":193,"b":144},{"t":9.2,"a":193,"b":150},{"t":10.1,"a":193,"b":140},{"t":10.8,"a":193,"b":155},{"t":11.7,"a":193,"b":146},{"t":12.6,"a":193,"b":158},
{"t":59.2,"a":193,"b":150},{"t":60.3,"a":193,"b":140},{"t":61.7,"a":193,"b":155},{"t":62.8,"a":193,"b":146},{"t":63.8,"a":193,"b":152},{"t":64.7,"a":193,"b":142},{"t":66.3,"a":193,"b":150},{"t":67,"a":193,"b":148},{"t":68.5,"a":193,"b":152},{"t":70,"a":193,"b":160},{"t":71.5,"a":193,"b":148},{"t":73,"a":193,"b":155},{"t":74.5,"a":193,"b":150},{"t":77.5,"a":193,"b":156},{"t":79,"a":193,"b":150},
{"t":0.3,"a":193,"b":240},{"t":1.2,"a":193,"b":235},{"t":2,"a":193,"b":245},{"t":3,"a":193,"b":238},{"t":4,"a":193,"b":245},{"t":5,"a":193,"b":232},{"t":6,"a":193,"b":246},{"t":7,"a":193,"b":240},{"t":8.2,"a":193,"b":248},{"t":9,"a":193,"b":236},{"t":10,"a":193,"b":243},{"t":11,"a":193,"b":232},{"t":12,"a":193,"b":238},{"t":13.5,"a":193,"b":225},{"t":15,"a":193,"b":228},{"t":16.5,"a":193,"b":222},{"t":18,"a":193,"b":230},{"t":19.5,"a":193,"b":226},{"t":21,"a":193,"b":237},{"t":22.5,"a":193,"b":242},{"t":24,"a":193,"b":228},{"t":25.5,"a":193,"b":245},{"t":27,"a":193,"b":230},{"t":28.5,"a":193,"b":222},{"t":30,"a":193,"b":218},{"t":41.4,"a":193,"b":212},{"t":46.5,"a":193,"b":217},{"t":50,"a":193,"b":215},{"t":52.8,"a":193,"b":235},{"t":53.8,"a":193,"b":245},{"t":55,"a":193,"b":248},{"t":59.5,"a":193,"b":240},{"t":60.5,"a":193,"b":246},{"t":61.5,"a":193,"b":232},{"t":62.5,"a":193,"b":243},{"t":63.5,"a":193,"b":238},{"t":64.5,"a":193,"b":230},{"t":65.5,"a":193,"b":245},{"t":66.5,"a":193,"b":236},{"t":68,"a":193,"b":240},{"t":69.5,"a":193,"b":230},{"t":71,"a":193,"b":238},{"t":72.5,"a":193,"b":226},{"t":74,"a":193,"b":244},{"t":75.5,"a":193,"b":230},{"t":77,"a":193,"b":236},{"t":78.5,"a":193,"b":228},{"t":79.5,"a":193,"b":240},
{"t":0.7,"a":193,"b":238},{"t":1.6,"a":193,"b":248},{"t":2.4,"a":193,"b":232},{"t":3.3,"a":193,"b":250},{"t":3.7,"a":193,"b":240},{"t":4.3,"a":193,"b":236},{"t":4.7,"a":193,"b":250},{"t":5.3,"a":193,"b":243},{"t":5.7,"a":193,"b":238},{"t":6.4,"a":193,"b":250},{"t":6.8,"a":193,"b":235},{"t":7.5,"a":193,"b":245},{"t":7.8,"a":193,"b":232},{"t":8.6,"a":193,"b":240},{"t":9.3,"a":193,"b":250},{"t":9.8,"a":193,"b":238},{"t":10.6,"a":193,"b":246},{"t":11.5,"a":193,"b":240},{"t":12.4,"a":193,"b":230},
{"t":60,"a":193,"b":236},{"t":61,"a":193,"b":244},{"t":62,"a":193,"b":228},{"t":63,"a":193,"b":248},{"t":64,"a":193,"b":236},{"t":65,"a":193,"b":232},{"t":66,"a":193,"b":244},{"t":67,"a":193,"b":230},{"t":68.8,"a":193,"b":240},{"t":70.2,"a":193,"b":244},{"t":71.8,"a":193,"b":232},{"t":73.2,"a":193,"b":240},{"t":75,"a":193,"b":238},{"t":76.3,"a":193,"b":244},{"t":78,"a":193,"b":236},{"t":79.2,"a":193,"b":232},
{"t":8.6,"a":266,"b":283},{"t":16.1,"a":266,"b":297},{"t":22.9,"a":266,"b":303},{"t":23.9,"a":266,"b":308},{"t":25.5,"a":266,"b":297},{"t":30.2,"a":266,"b":320},{"t":32.7,"a":266,"b":320},{"t":41,"a":266,"b":278},{"t":52.4,"a":266,"b":287},{"t":53.3,"a":266,"b":295},{"t":61.8,"a":266,"b":285},{"t":65.1,"a":266,"b":282},{"t":72.4,"a":266,"b":293},{"t":75.5,"a":266,"b":283},{"t":11.2,"a":266,"b":280},{"t":19,"a":266,"b":285},{"t":68,"a":266,"b":280},
{"t":15.5,"a":266,"b":250},{"t":19,"a":266,"b":248},{"t":22.9,"a":266,"b":245},{"t":23.9,"a":266,"b":250},{"t":25.9,"a":266,"b":248},{"t":28.8,"a":266,"b":250},{"t":52.4,"a":266,"b":240},{"t":53.3,"a":266,"b":248},{"t":72.4,"a":266,"b":248},{"t":74.3,"a":266,"b":250},{"t":3.3,"a":266,"b":254},{"t":9.2,"a":266,"b":255},{"t":31.8,"a":266,"b":252},{"t":62.2,"a":266,"b":254},{"t":66.1,"a":266,"b":252},
{"t":8.2,"a":342,"b":313},{"t":21,"a":342,"b":313},{"t":23.3,"a":342,"b":325},{"t":31.8,"a":342,"b":322},{"t":52.4,"a":342,"b":312},{"t":55.3,"a":342,"b":315},{"t":66.1,"a":342,"b":328},{"t":71,"a":342,"b":326},{"t":75.9,"a":342,"b":328},{"t":79.4,"a":342,"b":327},{"t":3.3,"a":342,"b":326},{"t":15.1,"a":342,"b":329},{"t":28.8,"a":342,"b":325},
{"t":0.8,"a":342,"b":360},{"t":3.9,"a":342,"b":367},{"t":8.2,"a":342,"b":360},{"t":25.9,"a":342,"b":363},{"t":27.8,"a":342,"b":360},{"t":30.8,"a":342,"b":363},{"t":52.7,"a":342,"b":377},{"t":53.9,"a":342,"b":370},{"t":61.2,"a":342,"b":360},{"t":67.1,"a":342,"b":362},{"t":73.9,"a":342,"b":360},{"t":19,"a":342,"b":355},
{"t":2,"a":407,"b":393},{"t":2.5,"a":407,"b":395},{"t":2.9,"a":407,"b":398},{"t":3.5,"a":407,"b":400},{"t":4.7,"a":407,"b":398},{"t":6.3,"a":407,"b":400},{"t":6.7,"a":407,"b":397},{"t":7.6,"a":407,"b":399},{"t":8,"a":407,"b":396},{"t":8.4,"a":407,"b":398},{"t":8.8,"a":407,"b":395},{"t":9.2,"a":407,"b":399},{"t":11.8,"a":407,"b":398},{"t":12.2,"a":407,"b":396},{"t":12.5,"a":407,"b":399},{"t":12.9,"a":407,"b":375},{"t":13.3,"a":407,"b":397},{"t":14.5,"a":407,"b":398},{"t":14.9,"a":407,"b":396},{"t":15.3,"a":407,"b":399},{"t":15.7,"a":407,"b":397},{"t":16.1,"a":407,"b":399},{"t":16.5,"a":407,"b":396},{"t":17.1,"a":407,"b":398},{"t":17.5,"a":407,"b":376},{"t":18,"a":407,"b":397},{"t":18.4,"a":407,"b":399},{"t":18.8,"a":407,"b":396},{"t":19.2,"a":407,"b":398},{"t":19.6,"a":407,"b":397},{"t":20,"a":407,"b":399},{"t":20.4,"a":407,"b":396},{"t":20.8,"a":407,"b":398},{"t":21.2,"a":407,"b":397},{"t":21.6,"a":407,"b":399},{"t":22,"a":407,"b":396},{"t":22.4,"a":407,"b":398},{"t":24.3,"a":407,"b":397},{"t":24.7,"a":407,"b":399},{"t":25.1,"a":407,"b":396},{"t":25.9,"a":407,"b":383},{"t":26.9,"a":407,"b":390},{"t":27.5,"a":407,"b":395},{"t":28,"a":407,"b":388},{"t":29.2,"a":407,"b":392},{"t":29.6,"a":407,"b":385},{"t":30,"a":407,"b":383},{"t":30.4,"a":407,"b":390},{"t":30.8,"a":407,"b":386},{"t":31.2,"a":407,"b":395},{"t":46.5,"a":407,"b":398},
{"t":53.1,"a":407,"b":383},{"t":53.7,"a":407,"b":396},{"t":54.3,"a":407,"b":398},{"t":54.9,"a":407,"b":395},{"t":55.5,"a":407,"b":397},{"t":56.1,"a":407,"b":396},{"t":57.8,"a":407,"b":397},{"t":58.4,"a":407,"b":398},{"t":59,"a":407,"b":396},{"t":59.6,"a":407,"b":397},{"t":60.2,"a":407,"b":395},{"t":60.8,"a":407,"b":398},{"t":61.4,"a":407,"b":396},{"t":62.4,"a":407,"b":397},{"t":62.9,"a":407,"b":399},{"t":63.7,"a":407,"b":396},{"t":64.5,"a":407,"b":398},{"t":65.3,"a":407,"b":397},{"t":66.1,"a":407,"b":395},{"t":66.9,"a":407,"b":398},{"t":68.2,"a":407,"b":397},{"t":69,"a":407,"b":396},{"t":70,"a":407,"b":398},{"t":70.8,"a":407,"b":395},{"t":71.8,"a":407,"b":398},{"t":72.5,"a":407,"b":397},{"t":73.1,"a":407,"b":372},{"t":73.7,"a":407,"b":390},{"t":74.5,"a":407,"b":374},{"t":75.1,"a":407,"b":385},{"t":76.3,"a":407,"b":396},{"t":77.1,"a":407,"b":395},{"t":77.8,"a":407,"b":398},{"t":78.6,"a":407,"b":394}
],
"art":[
{"t":57.45,"y":78},{"t":57.25,"y":110},{"t":57.65,"y":150},{"t":57.84,"y":200},{"t":57.65,"y":245},{"t":57.06,"y":262},{"t":57.45,"y":290},{"t":58.04,"y":330},{"t":58.43,"y":370},{"t":59.02,"y":405}
],
"blob":[{"t":57.6,"a":80,"b":150},{"t":57.9,"a":145,"b":250}],
"thick":[
{"t":31.57,"t2":52.35,"a":48,"b":48},{"t":31.57,"t2":31.57,"a":37,"b":59},{"t":52.35,"t2":52.35,"a":37,"b":59},
{"t":81.76,"t2":81.76,"a":107,"b":140},{"t":81.76,"t2":81.76,"a":188,"b":208},{"t":81.76,"t2":81.76,"a":262,"b":280}
],
"thin":[
{"t":0,"t2":80,"a":407,"b":407},{"t":81.2,"t2":81.2,"a":335,"b":355},{"t":81.2,"t2":86.9,"a":355,"b":355}
],
"lab":[
{"t":-13.3,"y":122,"txt":"EMG"},{"t":-13.3,"y":195,"txt":"EOG"},{"t":-13.3,"y":268,"txt":"EEG"},{"t":-13.3,"y":345,"txt":"LGN"},{"t":-13.3,"y":404,"txt":"UNIT"}
],
"cal":[{"t":82.1,"y":344,"txt":"50 µV"}],
"cal2":[{"t":82.4,"y":368,"txt":"5 SEC"}]
},
"layer":[
{"data":{"name":"core"},"mark":{"type":"area","color":"black","interpolate":"linear"},
 "encoding":{"x":{"field":"t","type":"quantitative","scale":{"domain":[-16.3,94.5]},"axis":null},
 "y":{"field":"a","type":"quantitative","scale":{"domain":[0,411],"reverse":true},"axis":null},
 "y2":{"field":"b"},"detail":{"field":"s"}}},
{"data":{"name":"env"},"mark":{"type":"rule","color":"black","strokeWidth":1.1},
 "encoding":{"x":{"field":"t","type":"quantitative","scale":{"domain":[-16.3,94.5]},"axis":null},
 "y":{"field":"a","type":"quantitative","scale":{"domain":[0,411],"reverse":true},"axis":null},"y2":{"field":"b"}}},
{"data":{"name":"spk"},"mark":{"type":"rule","color":"black","strokeWidth":1.1},
 "encoding":{"x":{"field":"t","type":"quantitative","scale":{"domain":[-16.3,94.5]},"axis":null},
 "y":{"field":"a","type":"quantitative","scale":{"domain":[0,411],"reverse":true},"axis":null},"y2":{"field":"b"}}},
{"data":{"name":"art"},"mark":{"type":"line","color":"black","strokeWidth":4.5},
 "encoding":{"x":{"field":"t","type":"quantitative","scale":{"domain":[-16.3,94.5]},"axis":null},
 "y":{"field":"y","type":"quantitative","scale":{"domain":[0,411],"reverse":true},"axis":null},"order":{"field":"y"}}},
{"data":{"name":"blob"},"mark":{"type":"rule","color":"black","strokeWidth":8},
 "encoding":{"x":{"field":"t","type":"quantitative","scale":{"domain":[-16.3,94.5]},"axis":null},
 "y":{"field":"a","type":"quantitative","scale":{"domain":[0,411],"reverse":true},"axis":null},"y2":{"field":"b"}}},
{"data":{"name":"thick"},"mark":{"type":"rule","color":"black","strokeWidth":3.5},
 "encoding":{"x":{"field":"t","type":"quantitative","scale":{"domain":[-16.3,94.5]},"axis":null},"x2":{"field":"t2"},
 "y":{"field":"a","type":"quantitative","scale":{"domain":[0,411],"reverse":true},"axis":null},"y2":{"field":"b"}}},
{"data":{"name":"thin"},"mark":{"type":"rule","color":"black","strokeWidth":1.6},
 "encoding":{"x":{"field":"t","type":"quantitative","scale":{"domain":[-16.3,94.5]},"axis":null},"x2":{"field":"t2"},
 "y":{"field":"a","type":"quantitative","scale":{"domain":[0,411],"reverse":true},"axis":null},"y2":{"field":"b"}}},
{"data":{"name":"lab"},"mark":{"type":"text","align":"left","baseline":"middle","font":"Liberation Sans","fontWeight":"bold","fontSize":22,"color":"black"},
 "encoding":{"x":{"field":"t","type":"quantitative","scale":{"domain":[-16.3,94.5]},"axis":null},
 "y":{"field":"y","type":"quantitative","scale":{"domain":[0,411],"reverse":true},"axis":null},"text":{"field":"txt"}}},
{"data":{"values":[{"t":41.96,"y":17,"txt":"S.I.R."}]},"mark":{"type":"text","align":"center","baseline":"middle","font":"Liberation Sans","fontWeight":"bold","fontSize":21,"color":"black"},
 "encoding":{"x":{"field":"t","type":"quantitative","scale":{"domain":[-16.3,94.5]},"axis":null},
 "y":{"field":"y","type":"quantitative","scale":{"domain":[0,411],"reverse":true},"axis":null},"text":{"field":"txt"}}},
{"data":{"name":"cal"},"mark":{"type":"text","align":"left","baseline":"middle","font":"Liberation Sans","fontSize":17,"color":"black"},
 "encoding":{"x":{"field":"t","type":"quantitative","scale":{"domain":[-16.3,94.5]},"axis":null},
 "y":{"field":"y","type":"quantitative","scale":{"domain":[0,411],"reverse":true},"axis":null},"text":{"field":"txt"}}},
{"data":{"name":"cal2"},"mark":{"type":"text","align":"left","baseline":"middle","font":"Liberation Sans","fontSize":15,"color":"black"},
 "encoding":{"x":{"field":"t","type":"quantitative","scale":{"domain":[-16.3,94.5]},"axis":null},
 "y":{"field":"y","type":"quantitative","scale":{"domain":[0,411],"reverse":true},"axis":null},"text":{"field":"txt"}}}
]
}
